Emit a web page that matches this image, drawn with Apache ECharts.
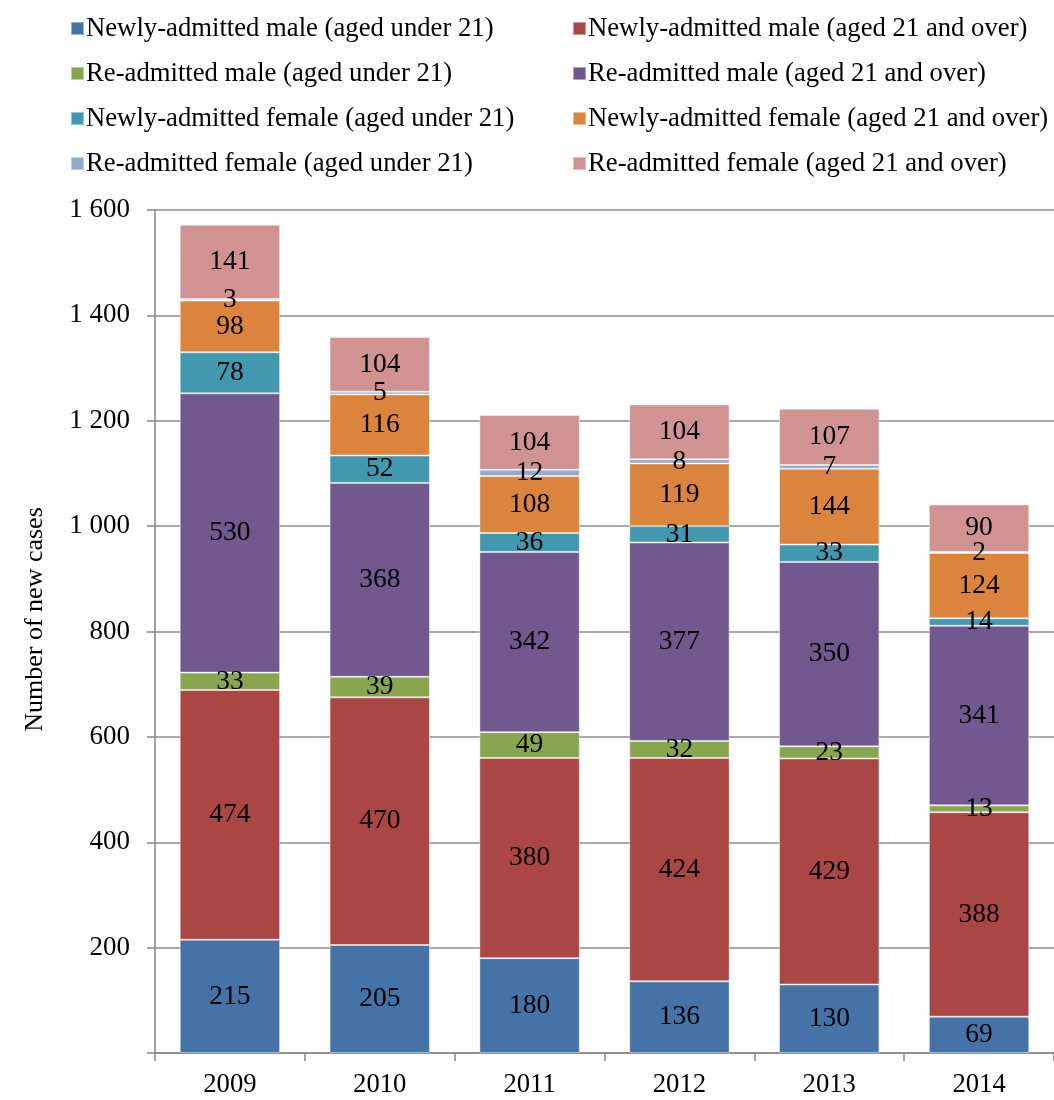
<!DOCTYPE html>
<html><head><meta charset="utf-8">
<script src="https://cdn.jsdelivr.net/npm/echarts@6/dist/echarts.min.js"></script>
<style>html,body{margin:0;padding:0;background:#fff}#c{width:1054px;height:1100px}</style>
</head><body><div id="c"></div>
<script>
const categories = ['2009','2010','2011','2012','2013','2014'];
const seriesNames = [
  'Newly-admitted male (aged under 21)',
  'Newly-admitted male (aged 21 and over)',
  'Re-admitted male (aged under 21)',
  'Re-admitted male (aged 21 and over)',
  'Newly-admitted female (aged under 21)',
  'Newly-admitted female (aged 21 and over)',
  'Re-admitted female (aged under 21)',
  'Re-admitted female (aged 21 and over)'
];
const newMaleUnder21   = [215, 205, 180, 136, 130, 69];
const newMale21Over    = [474, 470, 380, 424, 429, 388];
const reMaleUnder21    = [33, 39, 49, 32, 23, 13];
const reMale21Over     = [530, 368, 342, 377, 350, 341];
const newFemaleUnder21 = [78, 52, 36, 31, 33, 14];
const newFemale21Over  = [98, 116, 108, 119, 144, 124];
const reFemaleUnder21  = [3, 5, 12, 8, 7, 2];
const reFemale21Over   = [141, 104, 104, 104, 107, 90];
const yTicks = [0, 200, 400, 600, 800, 1000, 1200, 1400, 1600];

const values = [newMaleUnder21, newMale21Over, reMaleUnder21, reMale21Over,
                newFemaleUnder21, newFemale21Over, reFemaleUnder21, reFemale21Over];
const colors = ['#4572A7','#AA4643','#89A54E','#71588F','#4198AF','#DB843D','#93A9CF','#D19392'];
const FONT = '"Liberation Serif", "Times New Roman", serif';

const chart = echarts.init(document.getElementById('c'));
const legendCommon = {
  orient: 'vertical', top: 15, padding: 0, itemWidth: 13, itemHeight: 13, itemGap: 18,
  icon: 'rect',
  textStyle: { fontFamily: FONT, fontSize: 26.7, color: '#000', padding: [0,0,0,-3], lineHeight: 27 }
};
chart.setOption({
  animation: false,
  color: colors,
  legend: [
    Object.assign({}, legendCommon, { left: 70, data: [0,2,4,6].map(i => seriesNames[i]) }),
    Object.assign({}, legendCommon, { left: 572, data: [1,3,5,7].map(i => seriesNames[i]) })
  ],
  grid: { left: 155, right: 0, top: 210, bottom: 47, containLabel: false },
  xAxis: {
    type: 'category', data: categories,
    axisLine: { lineStyle: { color: '#868686', width: 1.5 } },
    axisTick: { show: true, length: 8, lineStyle: { color: '#868686', width: 1.5 } },
    axisLabel: { fontFamily: FONT, fontSize: 26.7, color: '#000', margin: 18 }
  },
  yAxis: {
    type: 'value', min: yTicks[0], max: yTicks[yTicks.length-1], interval: 200,
    name: 'Number of new cases', nameLocation: 'middle', nameGap: 107,
    nameTextStyle: { fontFamily: FONT, fontSize: 26, color: '#000', padding: [0,0,0,24] },
    axisLine: { show: true, lineStyle: { color: '#868686', width: 1.5 } },
    axisTick: { show: true, length: 8, lineStyle: { color: '#868686', width: 1.5 } },
    splitLine: { lineStyle: { color: '#8c8c8c', width: 1.5 } },
    axisLabel: {
      fontFamily: FONT, fontSize: 27, color: '#000', margin: 25,
      formatter: v => v === 0 ? '' : String(v).replace(/\B(?=(\d{3})+(?!\d))/g, ' ')
    }
  },
  series: seriesNames.map((n, i) => ({
    name: n, type: 'bar', stack: 'total', barWidth: '67%',
    data: values[i],
    itemStyle: { color: colors[i], borderColor: 'rgba(255,255,255,0.45)', borderWidth: 1 },
    label: { show: true, position: 'inside', fontFamily: FONT, fontSize: 27.5, color: '#000' }
  }))
});
</script></body></html>
